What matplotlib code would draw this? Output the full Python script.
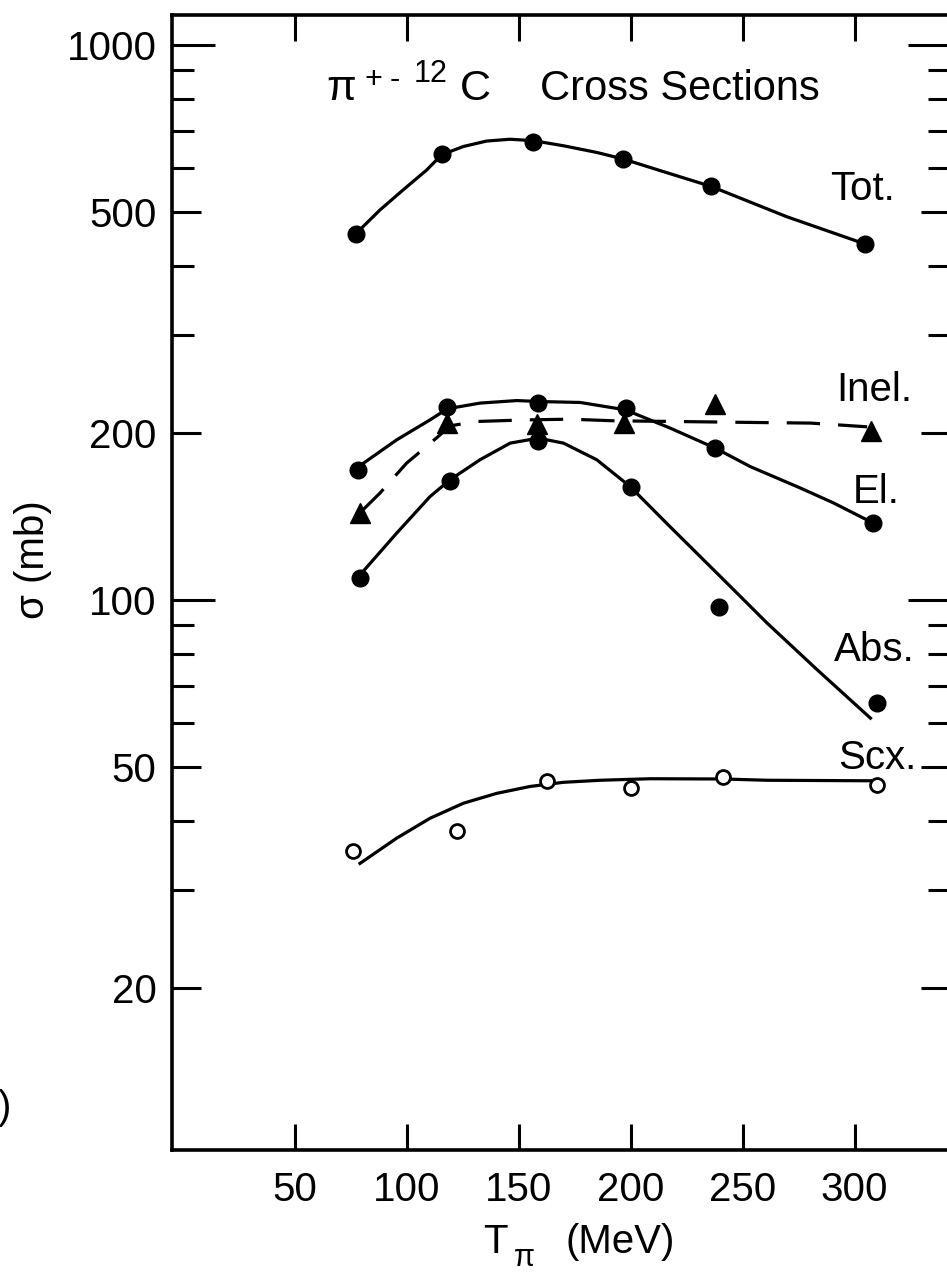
import numpy as np
import matplotlib
matplotlib.use("Agg")
import matplotlib.pyplot as plt
from matplotlib.ticker import NullFormatter

plt.rcParams['font.family'] = ['Liberation Sans', 'DejaVu Sans']
plt.rcParams['lines.scale_dashes'] = False

W, H = 947, 1276

# measured points (T in MeV, sigma in mb)
tot_T = [77.2, 115.5, 156.5, 196.5, 235.8, 304.5]
tot_sig = [457, 635, 669, 623, 556, 438]

el_T = [78.2, 118.0, 158.7, 197.7, 237.8, 308.3]
el_sig = [171.5, 223, 226, 222, 187.6, 137.5]

inel_T = [79.0, 117.7, 158.3, 197.0, 237.8, 307.4]
inel_sig = [143.3, 208.2, 207.6, 208.2, 225.6, 201.8]

abs_T = [79.0, 119.2, 158.7, 200.0, 239.2, 310.1]
abs_sig = [109.4, 163.4, 193.4, 159.5, 97.2, 65.3]

scx_T = [76.0, 122.2, 162.5, 200.3, 241.2, 309.8]
scx_sig = [35.2, 38.4, 47.1, 45.8, 48.0, 46.4]

# hand-drawn curves
tot_curve_T = [77.2, 87.9, 98.3, 108.8, 115.5, 125.2, 135.6, 146.1, 156.5, 169.9, 184.8, 196.5, 214.6, 235.8, 269.8, 304.5]
tot_curve_sig = [457, 504, 548, 595, 634, 656, 671, 676, 672, 658, 640, 623, 591, 556, 490, 438]

el_curve_T = [78.2, 95.4, 110.3, 118.0, 132.6, 149.1, 158.7, 177.4, 197.5, 217.6, 237.8, 253.4, 275.8, 290.7, 308.3]
el_curve_sig = [173.6, 194.2, 211, 220.9, 226.2, 228.6, 227.7, 226.8, 220, 203.9, 187.6, 173.8, 159, 149.4, 137.5]

inel_curve_T = [79.0, 87.9, 99.8, 114.0, 119.2, 131.2, 153.5, 172.9, 192.3, 219.1, 256.4, 280.3, 305.6]
inel_curve_sig = [143.5, 155.7, 176.3, 197, 205.8, 209.6, 211, 211.6, 210.2, 209.6, 208.7, 208.2, 205]

abs_curve_T = [79.7, 95.4, 110.3, 119.2, 132.6, 146.1, 158.7, 169.9, 184.8, 199.7, 216.7, 238.5, 260.9, 283.3, 307.1]
abs_curve_sig = [111.7, 131.9, 153.5, 164.5, 178.8, 191.6, 195.6, 191.6, 178.8, 160, 136.5, 111.7, 90.8, 74.8, 61.2]

scx_curve_T = [79.0, 95.4, 110.3, 125.2, 140.1, 155.0, 169.9, 186.3, 208.7, 241.2, 260.9, 307.1]
scx_curve_sig = [33.5, 37.2, 40.4, 43.0, 44.8, 46.1, 46.9, 47.3, 47.6, 47.55, 47.3, 47.2]

x_ticks = [50, 100, 150, 200, 250, 300]
y_major = [20, 50, 100, 200, 500, 1000]
y_labels = ["20", "50", "100", "200", "500", "1000"]
y_minor = [30, 40, 60, 70, 80, 90, 300, 400, 600, 700, 800, 900]
y_long = [100, 1000]

labels = ["Tot.", "Inel.", "El.", "Abs.", "Scx."]
label_px = [(862, 189), (874, 390), (876, 492), (874, 650), (877, 758)]


def fpos(x, y):
    # pixel position -> figure fraction
    return x / W, 1 - y / H


fig = plt.figure(figsize=(W / 100, H / 100), dpi=100)
# right spine sits just past the right edge, as in the cropped scan
ax = fig.add_axes([172 / W, 1 - 1150 / H, 777.5 / W, 1135 / H])

lw = 2.3
ax.plot(tot_curve_T, tot_curve_sig, color='black', lw=lw)
ax.plot(el_curve_T, el_curve_sig, color='black', lw=lw)
ax.plot(inel_curve_T, inel_curve_sig, color='black', lw=lw, dashes=(24, 13))
ax.plot(abs_curve_T, abs_curve_sig, color='black', lw=lw)
ax.plot(scx_curve_T, scx_curve_sig, color='black', lw=lw)

ax.plot(tot_T, tot_sig, 'o', color='black', ms=12, zorder=5)
ax.plot(el_T, el_sig, 'o', color='black', ms=12, zorder=5)
ax.plot(abs_T, abs_sig, 'o', color='black', ms=12, zorder=5)
ax.plot(inel_T, inel_sig, '^', color='black', ms=15, zorder=5)
ax.plot(scx_T, scx_sig, 'o', mfc='white', mec='black', mew=2.0, ms=10, zorder=5)

ax.set_yscale('log')
ax.set_xlim(-5, 342.4)
ax.set_ylim(10.2, 1132)

ax.set_xticks(x_ticks)
ax.set_yticks(y_major, labels=y_labels)
ax.set_yticks(y_minor, minor=True)
ax.yaxis.set_minor_formatter(NullFormatter())

ax.tick_params(axis='x', which='major', direction='in', length=19, width=2.2,
               top=True, bottom=True, labelsize=29, pad=15)
ax.tick_params(axis='y', which='major', direction='in', length=21, width=2.2,
               left=True, right=True, labelsize=29, pad=11)
ax.tick_params(axis='y', which='minor', direction='in', length=16, width=2.2,
               left=True, right=True)

# longer ticks at the decades
for t, loc in zip(ax.yaxis.get_major_ticks(), y_major):
    if loc in y_long:
        t.tick1line.set_markersize(31)
        t.tick2line.set_markersize(30)

for s in ax.spines.values():
    s.set_linewidth(2.6)

# curve labels
for txt, (px, py) in zip(labels, label_px):
    fig.text(*fpos(px, py), txt, ha='center', va='center', fontsize=29)

# title pieces
fig.text(*fpos(326, 100), "\u03c0", ha='left', va='baseline', fontsize=31)
fig.text(*fpos(364, 88), "+", ha='left', va='baseline', fontsize=22)
fig.text(*fpos(390, 88), "-", ha='left', va='baseline', fontsize=22)
fig.text(*fpos(414, 82), "12", ha='left', va='baseline', fontsize=22)
fig.text(*fpos(460, 100), "C", ha='left', va='baseline', fontsize=31)
fig.text(*fpos(540, 100), "Cross Sections", ha='left', va='baseline', fontsize=30)

# axis labels
fig.text(*fpos(483, 1253), "T", ha='left', va='baseline', fontsize=29)
fig.text(*fpos(514, 1266), "\u03c0", ha='left', va='baseline', fontsize=22)
fig.text(*fpos(565, 1253), "(MeV)", ha='left', va='baseline', fontsize=29)
fig.text(*fpos(33, 560), "\u03c3 (mb)", ha='center', va='center', rotation=90, fontsize=29)

# clipped label from neighbouring panel
fig.text(*fpos(11, 1108), ")", ha='right', va='center', fontsize=29)

plt.savefig("out.png", dpi=100)
plt.close()
